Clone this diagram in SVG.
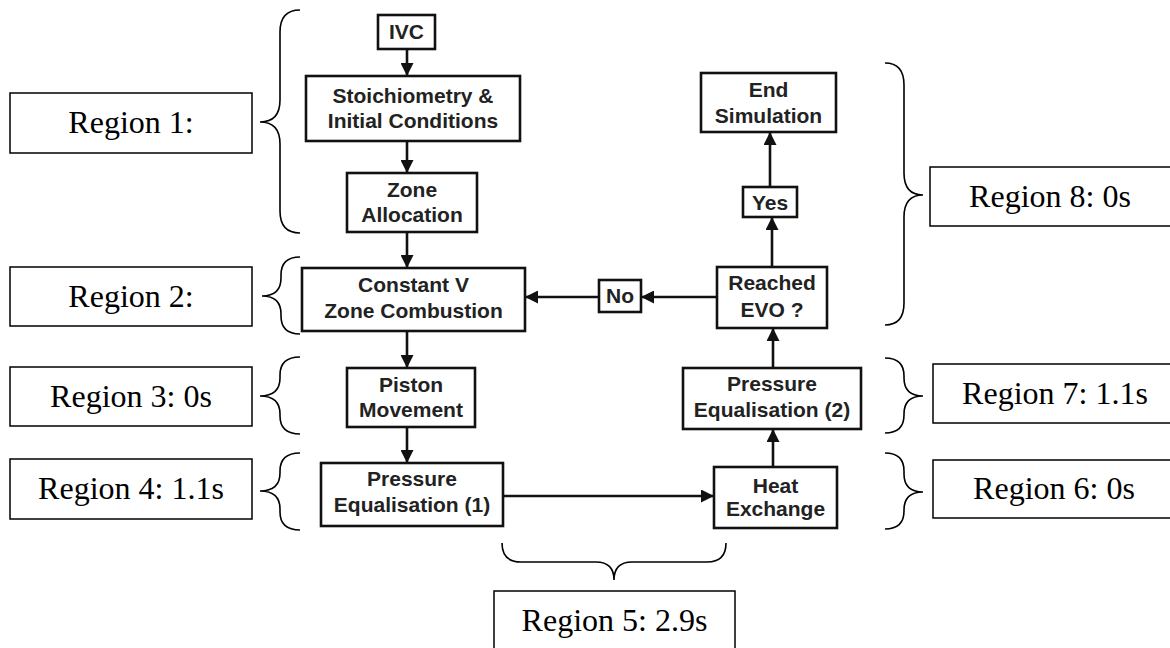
<svg xmlns="http://www.w3.org/2000/svg" width="1170" height="648" viewBox="0 0 1170 648">
<defs>
<style>
.node rect{fill:#fff;stroke:#111;stroke-width:2.6}
.node text{font-family:"Liberation Sans",Arial,sans-serif;font-weight:bold;font-size:21px;fill:#222;text-anchor:middle}
.reg rect{fill:#fff;stroke:#000;stroke-width:1.5}
.reg text{font-family:"Liberation Serif","Times New Roman",serif;font-size:32px;fill:#000;text-anchor:middle}
.brace{fill:none;stroke:#000;stroke-width:1.6}
.conn line{stroke:#111;stroke-width:2.6}
</style>
<marker id="ah" markerUnits="userSpaceOnUse" markerWidth="14" markerHeight="13" refX="13" refY="6.5" orient="auto">
<path d="M0,0 L13,6.5 L0,13 z" fill="#111"/>
</marker>
</defs>
<rect width="1170" height="648" fill="#fff"/>

<g id="connectors" class="conn">
<line x1="407" y1="49" x2="407" y2="76" marker-end="url(#ah)"/>
<line x1="407" y1="141" x2="407" y2="173" marker-end="url(#ah)"/>
<line x1="407" y1="232" x2="407" y2="268" marker-end="url(#ah)"/>
<line x1="407" y1="331" x2="407" y2="368" marker-end="url(#ah)"/>
<line x1="407" y1="427" x2="407" y2="463" marker-end="url(#ah)"/>
<line x1="503" y1="496" x2="714" y2="496" marker-end="url(#ah)"/>
<line x1="773" y1="467" x2="773" y2="429" marker-end="url(#ah)"/>
<line x1="773" y1="368" x2="773" y2="328" marker-end="url(#ah)"/>
<line x1="772" y1="267" x2="772" y2="217" marker-end="url(#ah)"/>
<line x1="770" y1="187" x2="770" y2="132" marker-end="url(#ah)"/>
<line x1="717" y1="297" x2="641" y2="297" marker-end="url(#ah)"/>
<line x1="599" y1="297" x2="525" y2="297" marker-end="url(#ah)"/>
</g>

<g id="ivc" class="node"><rect x="378" y="15" width="57" height="34"/><text x="406.5" y="39">IVC</text></g>
<g id="stoich" class="node"><rect x="306" y="76" width="214" height="65"/><text x="413" y="103">Stoichiometry &amp;</text><text x="413" y="128">Initial Conditions</text></g>
<g id="zone" class="node"><rect x="347" y="173" width="130" height="59"/><text x="412" y="197">Zone</text><text x="412" y="222">Allocation</text></g>
<g id="constv" class="node"><rect x="302" y="268" width="223" height="63"/><text x="413.5" y="292">Constant V</text><text x="413.5" y="318">Zone Combustion</text></g>
<g id="no" class="node"><rect x="599" y="280" width="42" height="32"/><text x="620" y="303">No</text></g>
<g id="evo" class="node"><rect x="717" y="267" width="110" height="61"/><text x="772" y="290">Reached</text><text x="772" y="317">EVO ?</text></g>
<g id="yes" class="node"><rect x="743" y="187" width="54" height="30"/><text x="770" y="210">Yes</text></g>
<g id="end" class="node"><rect x="701" y="73" width="135" height="59"/><text x="768.5" y="97">End</text><text x="768.5" y="123">Simulation</text></g>
<g id="piston" class="node"><rect x="347" y="368" width="128" height="59"/><text x="411" y="392">Piston</text><text x="411" y="417">Movement</text></g>
<g id="pe2" class="node"><rect x="683" y="368" width="178" height="61"/><text x="772" y="391">Pressure</text><text x="772" y="417">Equalisation (2)</text></g>
<g id="pe1" class="node"><rect x="321" y="463" width="182" height="63"/><text x="412" y="486">Pressure</text><text x="412" y="512">Equalisation (1)</text></g>
<g id="heat" class="node"><rect x="714" y="467" width="123" height="61"/><text x="775.5" y="493">Heat</text><text x="775.5" y="516">Exchange</text></g>

<g id="braces">
<path class="brace" d="M300,10 Q280,10 280,32 L280,100 Q280,122 260,122 Q280,122 280,144 L280,211 Q280,233 300,233"/>
<path class="brace" d="M300,257 Q281,257 281,275 L281,278 Q281,296 262,296 Q281,296 281,314 L281,316 Q281,334 300,334"/>
<path class="brace" d="M300,357 Q280,357 280,375 L280,378 Q280,396 260,396 Q280,396 280,414 L280,416 Q280,434 300,434"/>
<path class="brace" d="M300,453 Q280,453 280,471 L280,473 Q280,491 260,491 Q280,491 280,509 L280,512 Q280,530 300,530"/>
<path class="brace" d="M885,63 Q904,63 904,85 L904,173 Q904,195 923,195 Q904,195 904,217 L904,303 Q904,325 885,325"/>
<path class="brace" d="M885,358 Q904,358 904,376 L904,378 Q904,396 923,396 Q904,396 904,414 L904,415 Q904,433 885,433"/>
<path class="brace" d="M885,453 Q904,453 904,471 L904,474 Q904,492 923,492 Q904,492 904,510 L904,511 Q904,529 885,529"/>
<path class="brace" d="M502,543 Q502,562 521,562 L596,562 Q614,562 614,580 Q614,562 632,562 L707,562 Q726,562 726,543"/>
</g>

<g id="region1" class="reg"><rect x="10" y="93" width="242" height="60"/><text x="131" y="133">Region 1:</text></g>
<g id="region2" class="reg"><rect x="10" y="267" width="242" height="59"/><text x="131" y="307">Region 2:</text></g>
<g id="region3" class="reg"><rect x="10" y="367" width="242" height="59"/><text x="131" y="407">Region 3: 0s</text></g>
<g id="region4" class="reg"><rect x="10" y="459" width="242" height="60"/><text x="131" y="499">Region 4: 1.1s</text></g>
<g id="region5" class="reg"><rect x="494" y="591" width="241" height="62"/><text x="614.5" y="631">Region 5: 2.9s</text></g>
<g id="region6" class="reg"><rect x="933" y="460" width="250" height="58"/><text x="1054" y="499">Region 6: 0s</text></g>
<g id="region7" class="reg"><rect x="933" y="364" width="250" height="59"/><text x="1055" y="404">Region 7: 1.1s</text></g>
<g id="region8" class="reg"><rect x="930" y="167" width="250" height="59"/><text x="1050" y="207">Region 8: 0s</text></g>
</svg>
